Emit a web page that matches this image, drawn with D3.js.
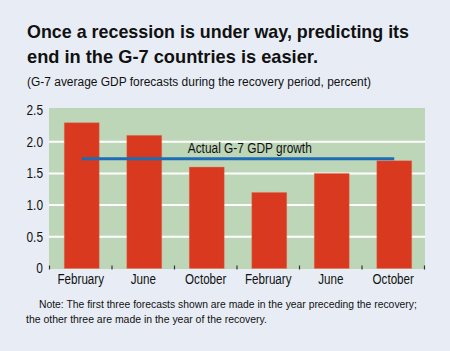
<!DOCTYPE html>
<html>
<head>
<meta charset="utf-8">
<script src="https://cdn.jsdelivr.net/npm/d3@7"></script>
<style>
  body { margin: 0; background: #e8edf5; }
  svg { display: block; }
  text { font-family: "Liberation Sans", Arial, sans-serif; fill: #111; }
</style>
</head>
<body>
<div id="chart"></div>
<script>
// data
var months = ["February", "June", "October", "February", "June", "October"];
var forecasts = [2.3, 2.1, 1.6, 1.2, 1.5, 1.7];
var actualGrowth = 1.73;
var yTicks = [0, 0.5, 1.0, 1.5, 2.0, 2.5];
var yTickLabels = ["0", "0.5", "1.0", "1.5", "2.0", "2.5"];

var width = 450, height = 351;

// squeeze Liberation Sans to look like the condensed face of the original
function squeeze(sel, ratio) {
  sel.each(function () {
    var t = d3.select(this);
    var w = this.getComputedTextLength();
    t.attr("textLength", w * ratio).attr("lengthAdjust", "spacingAndGlyphs");
  });
}

// a text line squeezed horizontally to a given width
function squeezedLine(x0, y0, size, str, w) {
  var g = svg.append("g");
  var t = g.append("text").attr("font-size", size).attr("fill", "#222").text(str);
  var sx = w / t.node().getComputedTextLength();
  g.attr("transform", `translate(${x0},${y0}) scale(${sx},1)`);
  return t;
}

var svg = d3.select("#chart")
  .append("svg")
  .attr("width", width)
  .attr("height", height);

svg.append("rect")
  .attr("width", width)
  .attr("height", height)
  .attr("fill", "#e8edf5");

// titles
var t1 = svg.append("text").attr("x", 27).attr("y", 38)
  .attr("font-size", 19).attr("font-weight", "bold")
  .text("Once a recession is under way, predicting its");
t1.attr("textLength", 382).attr("lengthAdjust", "spacingAndGlyphs");
var t2 = svg.append("text").attr("x", 27).attr("y", 63)
  .attr("font-size", 19).attr("font-weight", "bold")
  .text("end in the G-7 countries is easier.");
t2.attr("textLength", 291).attr("lengthAdjust", "spacingAndGlyphs");

svg.append("text").attr("x", 27).attr("y", 86)
  .attr("font-size", 12.5)
  .attr("fill", "#222")
  .text("(G-7 average GDP forecasts during the recovery period, percent)")
  .attr("textLength", 344).attr("lengthAdjust", "spacingAndGlyphs");

// scales
const x = d3.scaleBand()
  .domain(d3.range(months.length))
  .range([49.5, 424.5])
  .paddingInner(0.44)
  .paddingOuter(0.22);

const y = d3.scaleLinear().domain([0, 2.5]).range([268.5, 110]);

// plot background
svg.append("rect")
  .attr("x", 49)
  .attr("y", y(2.5) - 2)
  .attr("width", 376)
  .attr("height", y(0) - y(2.5) + 2.5)
  .attr("fill", "#bdd6b8");

// gridlines
svg.append("g")
  .selectAll("line")
  .data(yTicks.slice(1, -1))
  .join("line")
  .attr("x1", 49)
  .attr("x2", 425)
  .attr("y1", d => y(d))
  .attr("y2", d => y(d))
  .attr("stroke", "#fff")
  .attr("stroke-width", 2);

// bars
svg.append("g")
  .selectAll("rect")
  .data(forecasts)
  .join("rect")
  .attr("x", (d, i) => x(i) + 1)
  .attr("y", d => y(d))
  .attr("width", x.bandwidth())
  .attr("height", d => y(0) - y(d))
  .attr("fill", "#d9391f")
  .attr("stroke", "#e8806a")
  .attr("stroke-width", 0.6)
  .attr("stroke-dasharray", "1,1");

// y axis
const yAxis = svg.append("g")
  .attr("transform", "translate(49,0)")
  .call(d3.axisLeft(y).tickValues(yTicks)
    .tickFormat((d, i) => yTickLabels[i])
    .tickSize(0).tickPadding(6));
yAxis.select(".domain").remove();
yAxis.selectAll("text")
  .attr("font-size", 14)
  .attr("font-family", "Liberation Sans, Arial, sans-serif")
  .attr("fill", "#111")
  .call(squeeze, 0.85);

// x axis ticks at band boundaries
const step = x.step();
svg.append("g")
  .selectAll("line")
  .data(d3.range(months.length + 1))
  .join("line")
  .attr("x1", i => x.range()[0] + i * step)
  .attr("x2", i => x.range()[0] + i * step)
  .attr("y1", y(0) - 3)
  .attr("y2", y(0) + 1)
  .attr("stroke", "#333")
  .attr("stroke-width", 1.2);

const xAxis = svg.append("g")
  .attr("transform", `translate(0, ${y(0)})`)
  .call(d3.axisBottom(d3.scaleBand().domain(d3.range(months.length)).range(x.range()))
    .tickFormat(i => months[i])
    .tickSize(0).tickPadding(6));
xAxis.select(".domain").remove();
xAxis.selectAll("text")
  .attr("font-size", 14)
  .attr("font-family", "Liberation Sans, Arial, sans-serif")
  .attr("fill", "#111")
  .call(squeeze, 0.83);

// actual growth line
svg.append("line")
  .attr("x1", x(0) + 1 + x.bandwidth() / 2)
  .attr("x2", x(months.length - 1) + 1 + x.bandwidth() / 2)
  .attr("y1", y(actualGrowth))
  .attr("y2", y(actualGrowth))
  .attr("stroke", "#1c6db5")
  .attr("stroke-width", 3);

svg.append("text")
  .attr("x", x(1) + 1 + x.bandwidth() + 26)
  .attr("y", y(actualGrowth) - 6)
  .attr("font-size", 14)
  .attr("fill", "#111")
  .text("Actual G-7 GDP growth")
  .attr("textLength", 124).attr("lengthAdjust", "spacingAndGlyphs");

// note
squeezedLine(39, 308, 11.5, "Note: The first three forecasts shown are made in the year preceding the recovery;", 378);
squeezedLine(26, 323, 11.5, "the other three are made in the year of the recovery.", 241);
</script>
</body>
</html>
